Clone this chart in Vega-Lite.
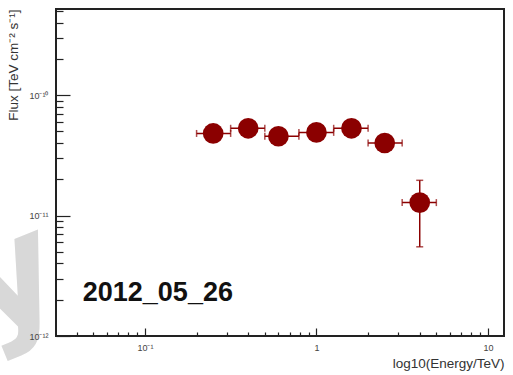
{
  "$schema": "https://vega.github.io/schema/vega-lite/v6.json",
  "width": 448,
  "height": 327,
  "autosize": {"type": "none"},
  "padding": {"left": 56, "top": 9, "right": 9, "bottom": 39},
  "background": "white",
  "config": {
    "view": {"stroke": "#222222", "strokeWidth": 2},
    "axis": {
      "domain": false,
      "grid": false,
      "labelFont": "Liberation Sans",
      "titleFont": "Liberation Sans",
      "labelColor": "#444444",
      "titleColor": "#333333",
      "titleFontWeight": "normal",
      "tickColor": "#222222",
      "tickWidth": 1.2,
      "labelFontSize": 9
    }
  },
  "datasets": {
    "spectrum": [
      {"energy": 0.25, "eLo": 0.2, "eHi": 0.316, "flux": 4.8e-11, "fluxLo": 4.5e-11, "fluxHi": 5.1e-11},
      {"energy": 0.4, "eLo": 0.316, "eHi": 0.5, "flux": 5.3e-11, "fluxLo": 5.0e-11, "fluxHi": 5.6e-11},
      {"energy": 0.6, "eLo": 0.5, "eHi": 0.79, "flux": 4.55e-11, "fluxLo": 4.25e-11, "fluxHi": 4.85e-11},
      {"energy": 1.0, "eLo": 0.79, "eHi": 1.26, "flux": 4.9e-11, "fluxLo": 4.6e-11, "fluxHi": 5.2e-11},
      {"energy": 1.6, "eLo": 1.26, "eHi": 2.0, "flux": 5.3e-11, "fluxLo": 5.0e-11, "fluxHi": 5.6e-11},
      {"energy": 2.5, "eLo": 2.0, "eHi": 3.16, "flux": 4.0e-11, "fluxLo": 3.7e-11, "fluxHi": 4.3e-11},
      {"energy": 4.0, "eLo": 3.16, "eHi": 5.0, "flux": 1.28e-11, "fluxLo": 5.5e-12, "fluxHi": 1.96e-11}
    ],
    "notes": [
      {"x": 0.0434, "y": 1.96e-12, "text": "2012_05_26"}
    ],
    "mark": [
      {"x": 0.0366, "y": 1.91e-12, "text": "y"}
    ]
  },
  "data": {"name": "spectrum"},
  "layer": [
    {
      "data": {"name": "mark"},
      "mark": {"type": "text", "font": "DejaVu Sans", "fontWeight": "bold", "fontSize": 145, "angle": -22, "color": "#d8d8d8", "align": "right", "baseline": "alphabetic", "clip": false},
      "encoding": {
        "x": {"field": "x", "type": "quantitative", "scale": {"type": "log", "domain": [0.0303, 12.4], "nice": false}, "axis": null},
        "y": {"field": "y", "type": "quantitative", "scale": {"type": "log", "domain": [1e-12, 5.18e-10], "nice": false}, "axis": null},
        "text": {"field": "text"}
      }
    },
    {
      "mark": {"type": "rule", "color": "#8b0000", "strokeWidth": 1.5},
      "encoding": {
        "x": {"field": "eLo", "type": "quantitative", "scale": {"type": "log", "domain": [0.0303, 12.4], "nice": false},
          "axis": {"orient": "bottom", "zindex": 1, "values": [0.04, 0.05, 0.06, 0.07, 0.08, 0.09, 0.2, 0.3, 0.4, 0.5, 0.6, 0.7, 0.8, 0.9, 2, 3, 4, 5, 6, 7, 8, 9], "tickSize": -4, "labels": false, "title": null}},
        "x2": {"field": "eHi"},
        "y": {"field": "flux", "type": "quantitative", "scale": {"type": "log", "domain": [1e-12, 5.18e-10], "nice": false},
          "axis": {"orient": "left", "zindex": 1, "values": [2e-12, 3e-12, 4e-12, 5e-12, 6e-12, 7e-12, 8e-12, 9e-12, 2e-11, 3e-11, 4e-11, 5e-11, 6e-11, 7e-11, 8e-11, 9e-11, 2e-10, 3e-10, 4e-10, 5e-10], "tickSize": -7, "labels": false, "title": null}}
      }
    },
    {
      "mark": {"type": "rule", "color": "#8b0000", "strokeWidth": 1.5},
      "encoding": {
        "x": {"field": "energy", "type": "quantitative", "scale": {"type": "log", "domain": [0.0303, 12.4], "nice": false},
          "axis": {"orient": "bottom", "zindex": 1, "values": [0.1, 1, 10], "tickSize": -8, "labelPadding": 15,
            "labelExpr": "datum.value < 0.5 ? '10⁻¹' : (datum.value < 5 ? '1' : '10')",
            "title": "log10(Energy/TeV)", "titleFontSize": 13.5, "titleAnchor": "end", "titleY": 20}},
        "y": {"field": "fluxLo", "type": "quantitative", "scale": {"type": "log", "domain": [1e-12, 5.18e-10], "nice": false},
          "axis": {"orient": "left", "zindex": 1, "values": [1e-12, 1e-11, 1e-10], "tickSize": -14, "labelPadding": 22,
            "labelExpr": "datum.value < 5e-12 ? '10⁻¹²' : (datum.value < 5e-11 ? '10⁻¹¹' : '10⁻¹⁰')",
            "title": "Flux [TeV cm⁻² s⁻¹]", "titleFontSize": 13.5, "titleAnchor": "end", "titleX": -36}},
        "y2": {"field": "fluxHi"}
      }
    },
    {
      "mark": {"type": "tick", "color": "#8b0000", "orient": "vertical", "size": 7, "thickness": 1.5},
      "encoding": {
        "x": {"field": "eLo", "type": "quantitative", "scale": {"type": "log", "domain": [0.0303, 12.4], "nice": false}, "axis": null},
        "y": {"field": "flux", "type": "quantitative", "scale": {"type": "log", "domain": [1e-12, 5.18e-10], "nice": false}, "axis": null}
      }
    },
    {
      "mark": {"type": "tick", "color": "#8b0000", "orient": "vertical", "size": 7, "thickness": 1.5},
      "encoding": {
        "x": {"field": "eHi", "type": "quantitative", "scale": {"type": "log", "domain": [0.0303, 12.4], "nice": false}, "axis": null},
        "y": {"field": "flux", "type": "quantitative", "scale": {"type": "log", "domain": [1e-12, 5.18e-10], "nice": false}, "axis": null}
      }
    },
    {
      "mark": {"type": "tick", "color": "#8b0000", "orient": "horizontal", "size": 7, "thickness": 1.5},
      "encoding": {
        "x": {"field": "energy", "type": "quantitative", "scale": {"type": "log", "domain": [0.0303, 12.4], "nice": false}, "axis": null},
        "y": {"field": "fluxLo", "type": "quantitative", "scale": {"type": "log", "domain": [1e-12, 5.18e-10], "nice": false}, "axis": null}
      }
    },
    {
      "mark": {"type": "tick", "color": "#8b0000", "orient": "horizontal", "size": 7, "thickness": 1.5},
      "encoding": {
        "x": {"field": "energy", "type": "quantitative", "scale": {"type": "log", "domain": [0.0303, 12.4], "nice": false}, "axis": null},
        "y": {"field": "fluxHi", "type": "quantitative", "scale": {"type": "log", "domain": [1e-12, 5.18e-10], "nice": false}, "axis": null}
      }
    },
    {
      "mark": {"type": "circle", "color": "#8b0000", "opacity": 1, "size": 430},
      "encoding": {
        "x": {"field": "energy", "type": "quantitative", "scale": {"type": "log", "domain": [0.0303, 12.4], "nice": false}, "axis": null},
        "y": {"field": "flux", "type": "quantitative", "scale": {"type": "log", "domain": [1e-12, 5.18e-10], "nice": false}, "axis": null}
      }
    },
    {
      "data": {"name": "notes"},
      "mark": {"type": "text", "font": "Liberation Sans", "fontWeight": "bold", "fontSize": 27, "color": "#111111", "align": "left", "baseline": "alphabetic"},
      "encoding": {
        "x": {"field": "x", "type": "quantitative", "scale": {"type": "log", "domain": [0.0303, 12.4], "nice": false}, "axis": null},
        "y": {"field": "y", "type": "quantitative", "scale": {"type": "log", "domain": [1e-12, 5.18e-10], "nice": false}, "axis": null},
        "text": {"field": "text"}
      }
    }
  ],
  "resolve": {"axis": {"x": "independent", "y": "independent"}}
}
